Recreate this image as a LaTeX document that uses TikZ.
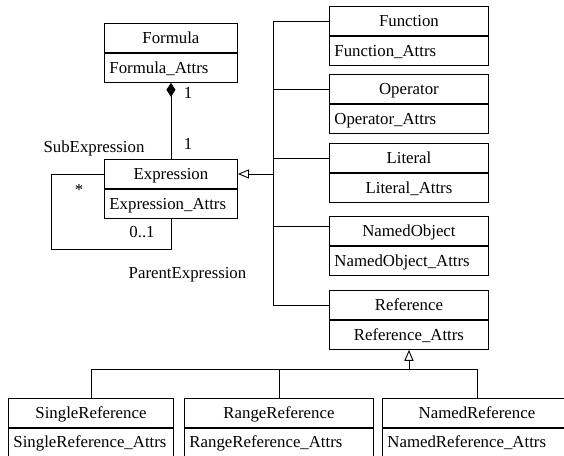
\documentclass[tikz,border=0pt]{standalone}
\usepackage{fontspec}
\setmainfont{Liberation Serif}
\usetikzlibrary{positioning,calc,arrows.meta}

\begin{document}
\begin{tikzpicture}[
    x=1pt,y=-1pt,
    every node/.style={font=\fontsize{16.8}{19}\selectfont,inner sep=0pt},
    title/.style={draw,line width=0.9pt,anchor=north west,align=center,inner xsep=5pt,inner ysep=0pt,minimum height=29pt,text height=12pt,text depth=1pt},
    attrs/.style={title,align=left},
    attrsc/.style={title},
    cut/.style={minimum height=33pt,text height=10pt,text depth=5pt},
    link/.style={line width=0.9pt},
    comp/.style={link,{Diamond[length=14pt,width=9pt]}-},
    gen/.style={link,-{Triangle[open,length=11pt,width=9pt]}}]

  \useasboundingbox (0,0) rectangle (564,455);

  % classes on the left
  \node[title,text width=123pt] (formula) at (104,23) {Formula};
  \node[attrs,text width=123pt,below=0pt of formula] (formula-a) {Formula\_Attrs};
  \node[title,text width=123pt] (expression) at (104,159) {Expression};
  \node[attrs,text width=123pt,below=0pt of expression] (expression-a) {Expression\_Attrs};

  % subclasses of Expression
  \node[title,text width=149pt] (function) at (329,6) {Function};
  \node[attrs,text width=149pt,below=0pt of function] (function-a) {Function\_Attrs};
  \node[title,text width=149pt] (operator) at (329,74) {Operator};
  \node[attrs,text width=149pt,below=0pt of operator] (operator-a) {Operator\_Attrs};
  \node[title,text width=149pt] (literal) at (329,143) {Literal};
  \node[attrsc,text width=149pt,below=0pt of literal] (literal-a) {Literal\_Attrs};
  \node[title,text width=149pt] (namedobject) at (329,216) {NamedObject};
  \node[attrs,text width=149pt,below=0pt of namedobject] (namedobject-a) {NamedObject\_Attrs};
  \node[title,text width=149pt] (reference) at (329,290) {Reference};
  \node[attrsc,text width=149pt,below=0pt of reference] (reference-a) {Reference\_Attrs};

  % subclasses of Reference (cut off by the page edge)
  \node[title,text width=155pt] (singleref) at (8,398) {SingleReference};
  \node[attrs,cut,text width=155pt,below=0pt of singleref] (singleref-a) {SingleReference\_Attrs};
  \node[title,text width=179pt] (rangeref) at (184,398) {RangeReference};
  \node[attrs,cut,text width=179pt,below=0pt of rangeref] (rangeref-a) {RangeReference\_Attrs};
  \node[title,text width=179pt] (namedref) at (382,398) {NamedReference};
  \node[attrs,cut,text width=179pt,below=0pt of namedref] (namedref-a) {NamedReference\_Attrs};

  \coordinate (loop) at (51,249);
  \coordinate (trunk) at (273,0);
  \coordinate (bus) at (0,369);

  % composition and self association
  \draw[comp] (formula-a.south) -- (expression.north);
  \draw[link] (expression.west) -| (loop) -| (expression-a.south);

  % generalization
  \draw[gen] (trunk |- expression.east) -- (expression.east);
  \foreach \cls in {function,operator,literal,reference}
    \draw[link] (\cls.west) -| (trunk |- expression.east);
  \draw[link] ([yshift=5pt]namedobject.west) -| (trunk |- expression.east);

  \draw[gen] (reference-a.south |- bus) -- (reference-a.south);
  \foreach \sub in {singleref,rangeref,namedref}
    \draw[link] (\sub.north) |- (reference-a.south |- bus);

  % role names and multiplicities
  \node[anchor=base] (lbl-sub) at (94,152) {SubExpression};
  \node[anchor=base] (lbl-one-a) at (188,98) {1};
  \node[anchor=base] (lbl-one-b) at (188,149) {1};
  \node[anchor=base] (lbl-many) at (79,195) {*};
  \node[anchor=base] (lbl-opt) at (142,237) {0..1};
  \node[anchor=base] (lbl-parent) at (187.5,278) {ParentExpression};
\end{tikzpicture}
\end{document}
